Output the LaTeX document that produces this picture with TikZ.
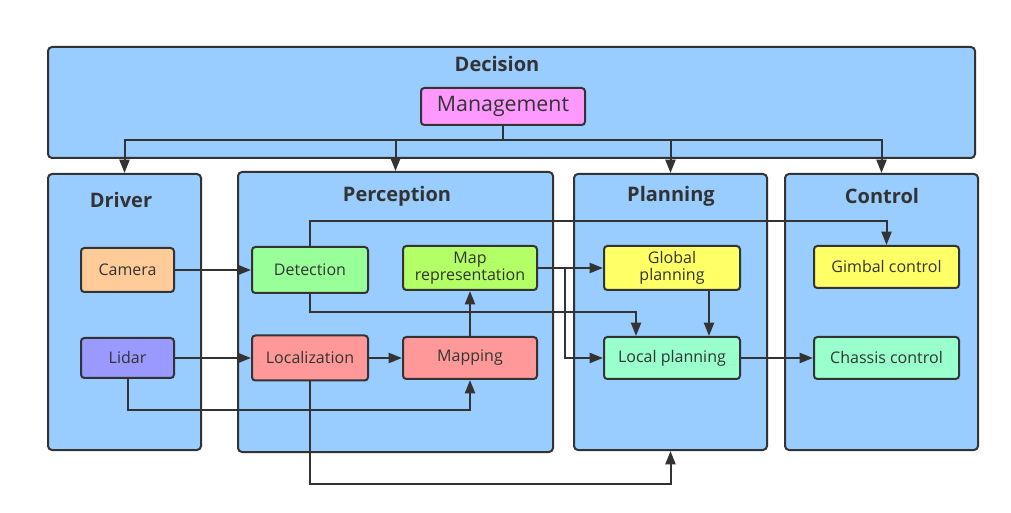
\documentclass[tikz,border=0pt]{standalone}
\usepackage{fontspec}
\setmainfont{Open Sans}
\usetikzlibrary{positioning,arrows.meta,calc}
\definecolor{edge}{HTML}{333333}
\definecolor{panel}{HTML}{99CCFF}
\definecolor{pink}{HTML}{FF99FF}
\definecolor{peach}{HTML}{FFCC99}
\definecolor{lilac}{HTML}{9999FF}
\definecolor{mint}{HTML}{99FF99}
\definecolor{salmon}{HTML}{FF9999}
\definecolor{lime}{HTML}{B3FF66}
\definecolor{lemon}{HTML}{FFFF66}
\definecolor{aqua}{HTML}{99FFCC}
\newcommand\pxu{0.75pt}
\begin{document}
\begin{tikzpicture}[x=0.75pt,y=-0.75pt,
  group/.style={draw=edge, fill=panel, line width=1.5pt, rounded corners=3pt, inner sep=0pt},
  block/.style={draw=edge, line width=1.5pt, rounded corners=2.5pt, inner sep=1pt, align=center,
    text=edge, font=\fontsize{12}{13}\selectfont},
  title/.style={text=edge, font=\fontsize{15}{17}\selectfont\bfseries},
  link/.style={draw=edge, line width=1.5pt},
  arr/.style={link, -{Triangle[length=10pt,width=7.5pt]}}]
\useasboundingbox (0,0) rectangle (1011,513);
% groups
\node[group, minimum width=927*\pxu, minimum height=111*\pxu] (decision) at (511.5,102.5) {};
\node[group, minimum width=153*\pxu, minimum height=276*\pxu] (driver) at (124.5,312) {};
\node[group, minimum width=315*\pxu, minimum height=280*\pxu] (perception) at (395.5,312) {};
\node[group, minimum width=193*\pxu, minimum height=276*\pxu] (planning) at (670.5,312) {};
\node[group, minimum width=193*\pxu, minimum height=276*\pxu] (control) at (881.5,312) {};
\node[title] at (497,64) {Decision};
\node[title] at (121,200) {Driver};
\node[title] at (397,196) {Perception};
\node[title] at (671,196) {Planning};
\node[title] at (882,196) {Control};
% blocks
\node[block, fill=pink, minimum width=164*\pxu, minimum height=37*\pxu, font=\fontsize{16}{18}\selectfont] (mgmt) at (503,106.5) {Management};
\node[block, fill=peach, minimum width=93*\pxu, minimum height=44*\pxu] (camera) at (127.5,270) {Camera};
\node[block, fill=lilac, minimum width=93*\pxu, minimum height=40*\pxu] (lidar) at (127.5,358) {Lidar};
\node[block, fill=mint, minimum width=116*\pxu, minimum height=46*\pxu] (det) at (310,270) {Detection};
\node[block, fill=salmon, minimum width=116*\pxu, minimum height=45*\pxu] (loc) at (310,358) {Localization};
\node[block, fill=lime, minimum width=134*\pxu, minimum height=44*\pxu] (maprep) at (470,268) {Map\\representation};
\node[block, fill=salmon, minimum width=134*\pxu, minimum height=42*\pxu] (mapping) at (470,358) {Mapping};
\node[block, fill=lemon, minimum width=136*\pxu, minimum height=44*\pxu] (glob) at (672,268) {Global\\planning};
\node[block, fill=aqua, minimum width=136*\pxu, minimum height=42*\pxu] (local) at (672,358) {Local planning};
\node[block, fill=lemon, minimum width=145*\pxu, minimum height=42*\pxu] (gimbal) at (886.5,267) {Gimbal control};
\node[block, fill=aqua, minimum width=145*\pxu, minimum height=42*\pxu] (chassis) at (886.5,358) {Chassis control};
% management to the groups
\coordinate (split) at ($(mgmt.south)+(0,14)$);
\draw[link] (mgmt.south) -- (split);
\draw[arr] (split) -| (driver.north);
\draw[arr] (split) -| (perception.north);
\draw[arr] (split) -| (planning.north);
\draw[arr] (split) -| (control.north);
% data flow
\draw[arr] (camera) -- (det);
\draw[arr] (lidar) -- (loc);
\draw[arr] (loc) -- (mapping);
\draw[arr] (mapping) -- (maprep);
\draw[arr] (lidar.south) -- ++(0,31) -| (mapping.south);
\draw[arr] (det.north) -- ++(0,-25) -| (gimbal.north);
\draw[arr] (det.south) -- ++(0,18) -| ($(local.north)+(-36,0)$);
\draw[arr] ($(glob.south)+(37,0)$) -- ($(local.north)+(37,0)$);
\draw[arr] (maprep) -- (glob);
\coordinate (branch) at ($(maprep.east)+(27,0)$);
\draw[arr] (branch) |- (local.west);
\draw[arr] (loc.south) -- ++(0,102) -| (planning.south);
\draw[arr] (local) -- (chassis);
\end{tikzpicture}
\end{document}
